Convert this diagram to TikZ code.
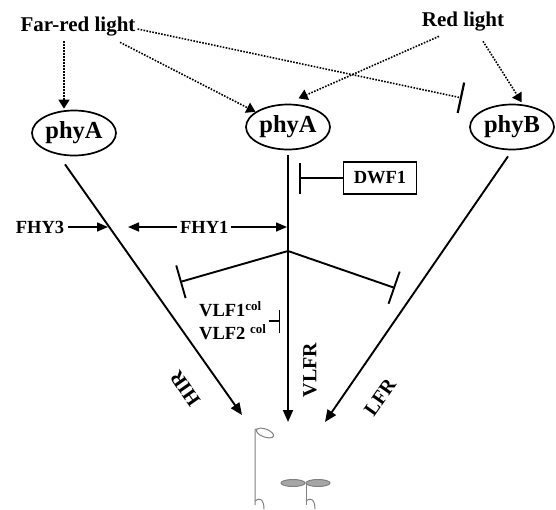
\documentclass[tikz,border=0pt]{standalone}
\usepackage{fontspec}
\setmainfont{Liberation Serif}
\usetikzlibrary{shapes.geometric,arrows.meta,positioning}

\begin{document}
\begin{tikzpicture}[x=1pt,y=-1pt]
	% Stiler
	\tikzstyle{fytokrom}	= [ellipse, draw, line width=1.7pt, minimum width=84pt, minimum height=45pt, inner sep=0pt, font=\fontsize{24.5}{24.5}\selectfont\bfseries]
	\tikzstyle{lys}			= [inner sep=0pt, font=\fontsize{21}{21}\selectfont\bfseries]
	\tikzstyle{faktor}		= [inner sep=0pt, font=\fontsize{18.5}{23}\selectfont\bfseries]
	\tikzstyle{respons}		= [inner sep=0pt, font=\fontsize{20}{20}\selectfont\bfseries]
	\tikzstyle{lyspil}		= [line width=1.6pt, dash pattern=on 1.6pt off 1.4pt, -{Triangle[length=9pt,width=11pt]}]
	\tikzstyle{lyshemmer}	= [line width=1.6pt, dash pattern=on 1.6pt off 1.4pt, -{Bar[width=31pt,line width=2.2pt]}]
	\tikzstyle{signal}		= [line width=1.9pt, -{Triangle[length=12pt,width=10pt]}]
	\tikzstyle{liten pil}	= [line width=1.5pt, -{Triangle[length=11pt,width=9pt]}]
	\tikzstyle{dobbel pil}	= [line width=1.5pt, {Triangle[length=11pt,width=9pt]}-{Triangle[length=11pt,width=9pt]}]
	\tikzstyle{hemmer}		= [line width=1.9pt, -{Bar[width=34pt]}]
	\tikzstyle{kort hemmer}	= [line width=1.6pt, -{Bar[width=31pt]}]
	\tikzstyle{liten hemmer}= [line width=1.5pt, -{Bar[width=23pt]}]
	\tikzstyle{plante}		= [draw=black!50, line width=1pt]

	\useasboundingbox (0,0) rectangle (556,509);

	% Lys
	\node[lys]	(fjernrod)	at (78,26.5)	{Far-red light};
	\node[lys]	(rod)		at (463,21.5)	{Red light};

	% Fytokromer
	\node[fytokrom]	(phyA_hir)	at (74,133)	{phyA};
	\node[fytokrom]	(phyA_vlfr)	at (288,127)	{phyA};
	\node[fytokrom]	(phyB_lfr)	[right of=phyA_vlfr, node distance=224pt]	{phyB};

	% Stiplede piler fra lyset
	\draw[lyspil] ([xshift=-14pt,yshift=-5pt]fjernrod.south) -- ([xshift=-10pt,yshift=1pt]phyA_hir.north);
	\draw[lyspil] ([xshift=42pt,yshift=-6pt]fjernrod.south) -- (phyA_vlfr.155);
	\coordinate (blokk_phyB) at (462,98);
	\draw[lyshemmer] ([xshift=2pt,yshift=-2.5pt]fjernrod.east) -- (blokk_phyB);
	\draw[lyspil] ([xshift=-24pt,yshift=-5pt]rod.south) -- ([yshift=6pt]phyA_vlfr.65);
	\draw[lyspil] ([xshift=20pt,yshift=-10pt]rod.south) -- ([yshift=2pt]phyB_lfr.67);

	% Signalveier
	\coordinate (hir_mal)	at (242,415);
	\coordinate (vlfr_mal)	at (288,422);
	\coordinate (lfr_mal)	at (325,422);
	\draw[signal] ([xshift=-9pt,yshift=-8pt]phyA_hir.south) -- (hir_mal);
	\draw[signal] ([yshift=-5pt]phyA_vlfr.south) -- (vlfr_mal);
	\draw[signal] ([xshift=-4pt,yshift=-6pt]phyB_lfr.south) -- (lfr_mal);

	% Responser
	\node[respons, rotate=125]	(hir)	at (185,389)	{HIR};
	\node[respons, rotate=90]	(vlfr)	at (310,370)	{VLFR};
	\node[respons, rotate=55]	(lfr)	at (380,397)	{LFR};

	% FHY3 og FHY1
	\node[faktor] (fhy3) at (40,227) {FHY3};
	\coordinate (fhy3_mal)		at (108,227);
	\coordinate (fhy1_venstre)	at (128,227);
	\coordinate (fhy1_hoyre)	at (287,227);
	\draw[liten pil] ([xshift=4pt]fhy3.east) -- (fhy3_mal);
	\draw[dobbel pil] (fhy1_venstre) -- node[faktor, fill=white, inner sep=3pt, pos=0.48] (fhy1) {FHY1} (fhy1_hoyre);

	% DWF1
	\node[faktor, draw, line width=1.4pt, minimum width=73pt, minimum height=32pt] (dwf1) at (380,178) {DWF1};
	\coordinate (dwf1_stopp) at (299,178);
	\draw[kort hemmer] (dwf1) -- (dwf1_stopp);

	% Forgreining med hemmere
	\coordinate (kryss)				at (288,251);
	\coordinate (hemmer_venstre)	at (180,282);
	\coordinate (hemmer_hoyre)		at (395,288);
	\draw[hemmer] (kryss) -- (hemmer_venstre);
	\draw[hemmer] (kryss) -- (hemmer_hoyre);

	% VLF1 og VLF2
	\node[faktor, align=left, anchor=west] (vlf) at (199,321) {VLF1\textsuperscript{col}\\VLF2 \textsuperscript{col}};
	\coordinate (vlf_stopp) at (280,321);
	\draw[liten hemmer] ([xshift=2pt]vlf.east) -- (vlf_stopp);

	% Planter
	\draw[plante] (255,505) -- (255,431) .. controls (255,429) .. (257,429);
	\draw[plante, fill=white, rotate around={-20:(265,433)}] (265,433) ellipse (9 and 4);
	\draw[plante] (255,501) .. controls (259,497) and (264,499) .. (264,509);
	\draw[plante] (306,484) -- (306,505);
	\draw[plante] (306,501) .. controls (310,497) and (315,499) .. (315,509);
	\draw[plante, fill=black!35] (293,483) ellipse (12 and 3.5);
	\draw[plante, fill=black!35] (318,483) ellipse (12 and 3.5);
\end{tikzpicture}
\end{document}
